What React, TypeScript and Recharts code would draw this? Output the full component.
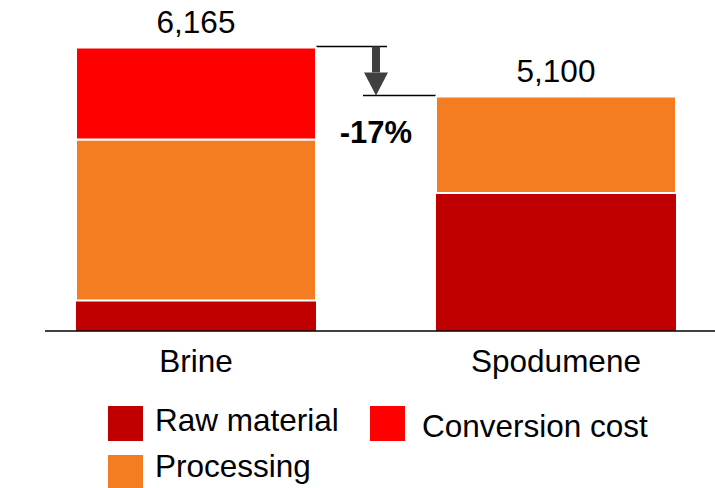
import React from 'react';
import { BarChart, Bar, XAxis, YAxis, LabelList, Legend, ReferenceArea } from 'recharts';

const categories = ['Brine', 'Spodumene'];
const rawMaterial = [665, 3000];
const processing = [3500, 2100];
const conversionCost = [2000, 0];
const totals = [6165, 5100];

const RAW = '#C00000';
const PROC = '#F47D22';
const CONV = '#FF0000';
const FONT = '"Liberation Sans", Arial, sans-serif';
const FS = 31.5;

const data = categories.map((name, i) => ({
  name,
  raw: rawMaterial[i],
  processing: processing[i],
  conversion: conversionCost[i],
  total: totals[i],
}));

// -17%
const change = Math.round((totals[1] / totals[0] - 1) * 100);

// arrow between the two totals, y comes from the reference area (data scale)
const DeltaArrow = (props: any) => {
  const { y, height } = props;
  const yTop = y - 1;
  const yBot = y + height - 1;
  const cx = 376;
  const headH = 23;
  return (
    <g>
      <line x1={316} x2={387} y1={yTop} y2={yTop} stroke="#000" strokeWidth={1.5} />
      <line x1={363} x2={436} y1={yBot} y2={yBot} stroke="#000" strokeWidth={1.5} />
      <rect x={cx - 4} y={yTop} width={8} height={yBot - yTop - headH} fill="#404040" />
      <polygon
        points={`${cx - 12},${yBot - headH} ${cx + 12},${yBot - headH} ${cx},${yBot}`}
        fill="#404040"
      />
      <text x={cx} y={yBot + 48} textAnchor="middle" fontSize={31} fontWeight="bold" fontFamily={FONT} fill="#000">
        {change}%
      </text>
    </g>
  );
};

// legend spots, relative to legend box top (393)
const legendSpots: Record<string, { x: number; y: number; tx: number; ty: number }> = {
  raw: { x: 108, y: 13, tx: 155, ty: 38 },
  processing: { x: 108, y: 62, tx: 155, ty: 84 },
  conversion: { x: 370, y: 13, tx: 422, ty: 44 },
};

const LegendBox = (props: any) => {
  const { payload = [] } = props;
  return (
    <svg width={715} height={95} style={{ display: 'block' }}>
      {payload.map((p: any) => {
        const s = legendSpots[p.dataKey];
        if (!s) return null;
        return (
          <g key={p.dataKey}>
            <rect x={s.x} y={s.y} width={35} height={35} fill={p.color} />
            <text x={s.tx} y={s.ty} fontSize={FS} fontFamily={FONT} fill="#000">
              {p.value}
            </text>
          </g>
        );
      })}
    </svg>
  );
};

const fmt = (v: any) => (v == null ? '' : Number(v).toLocaleString('en-US'));

export default function App() {
  return (
    <div style={{ position: 'absolute', left: 0, top: 0, fontFamily: FONT }}>
      <BarChart width={715} height={488} data={data} margin={{ top: 9, right: 0, left: 45, bottom: 0 }}>
        <XAxis
          dataKey="name"
          height={62}
          padding={{ left: -29, right: -21 }}
          tickLine={false}
          tickSize={0}
          tickMargin={19}
          interval={0}
          axisLine={{ stroke: '#000', strokeWidth: 1.5 }}
          tick={{ fill: '#000', fontSize: FS, fontFamily: FONT }}
        />
        <YAxis hide domain={[0, 7000]} />
        <Legend
          verticalAlign="bottom"
          content={<LegendBox />}
          wrapperStyle={{ left: 0, bottom: 0, width: 715, height: 95 }}
        />
        <Bar dataKey="raw" name="Raw material" stackId="a" fill={RAW} barSize={240} isAnimationActive={false} />
        <Bar
          dataKey="processing"
          name="Processing"
          stackId="a"
          fill={PROC}
          stroke="#fff"
          strokeWidth={2}
          barSize={240}
          isAnimationActive={false}
        >
          <LabelList
            dataKey={(d: any) => (d.conversion === 0 ? d.total : null)}
            position="top"
            offset={14}
            fill="#000"
            fontSize={FS}
            fontFamily={FONT}
            formatter={fmt}
          />
        </Bar>
        <Bar
          dataKey="conversion"
          name="Conversion cost"
          stackId="a"
          fill={CONV}
          stroke="#fff"
          strokeWidth={2}
          barSize={240}
          isAnimationActive={false}
        >
          <LabelList
            dataKey={(d: any) => (d.conversion > 0 ? d.total : null)}
            position="top"
            offset={14}
            fill="#000"
            fontSize={FS}
            fontFamily={FONT}
            formatter={fmt}
          />
        </Bar>
        <ReferenceArea y1={totals[1]} y2={totals[0]} ifOverflow="visible" shape={DeltaArrow} />
      </BarChart>
    </div>
  );
}
